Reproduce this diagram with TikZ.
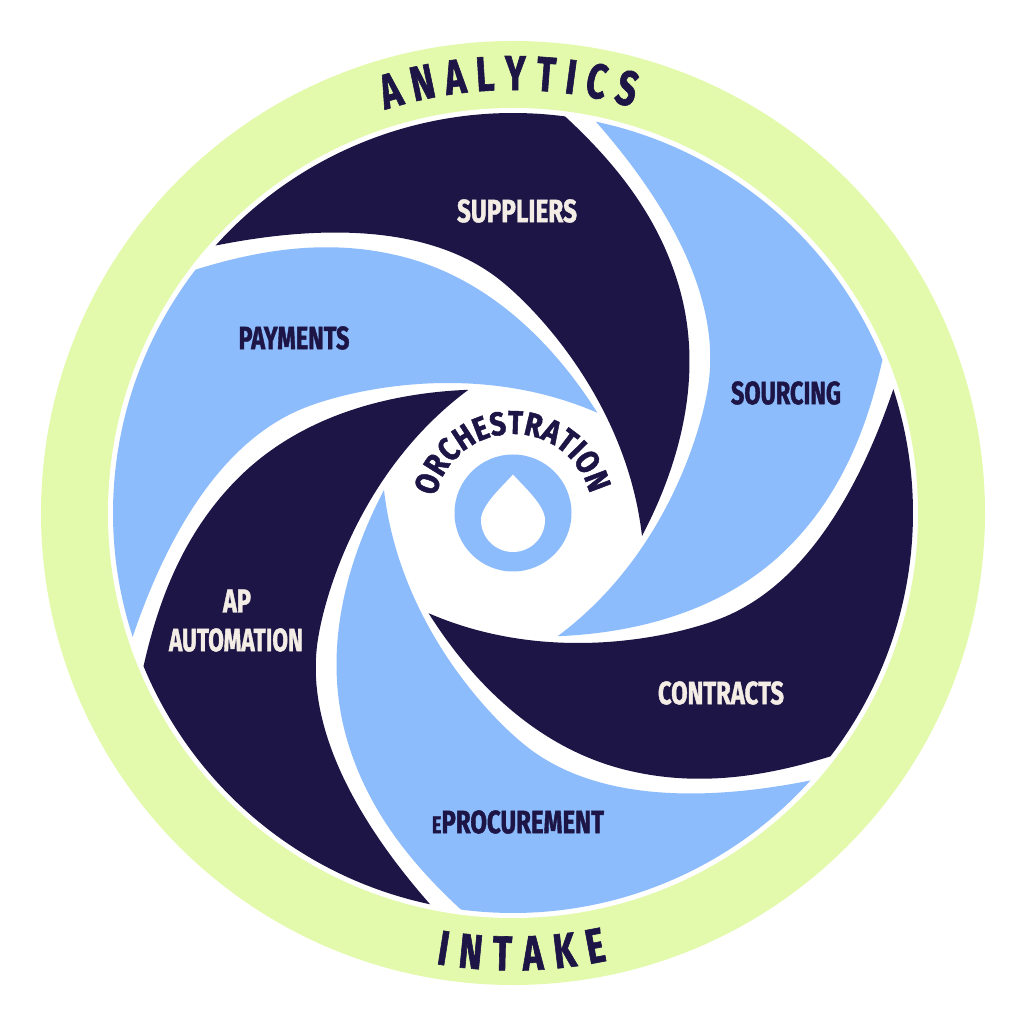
\documentclass[tikz,border=0pt]{standalone}
\usepackage{fontspec}
\usepackage{graphicx}
\usetikzlibrary{decorations.text}
\newfontfamily\lblfont[FakeStretch=0.72,BoldFeatures={FakeBold=1.2}]{Fira Sans}
\newfontfamily\arcfont[FakeStretch=0.84,BoldFeatures={FakeBold=1.4}]{Fira Sans}
\definecolor{ringgreen}{HTML}{E3FAAC}
\definecolor{bladeblue}{HTML}{8DBCFC}
\definecolor{bladedark}{HTML}{1D1546}
\definecolor{cream}{HTML}{F4EDE6}
\tikzset{
  blade/.pic={
    \fill[pic actions] (138.04:400pt) arc[start angle=138.04,end angle=82.52,radius=400pt]
      .. controls (97,355) and (142,303) .. (164,233)
      .. controls (196,133) and (160,36) .. (129,-23)
      .. controls (114,108) and (26,202) .. (-13,233)
      .. controls (-86,291) and (-200,287) .. cycle;
  },
  lbl/.style={inner sep=0pt,outer sep=0pt,font=\lblfont\bfseries},
  curved/.style n args={3}{decorate,decoration={text along path,text align={fit to path},
     text color=bladedark,
     text={|#1\bfseries\fontsize{#2}{#2}\selectfont|#3}}}
}
\newcommand{\fitlbl}[3]{\resizebox{#1pt}{#2pt}{#3}}
\begin{document}
\begin{tikzpicture}[x=1pt,y=1pt]
\useasboundingbox (-513,-511) rectangle (511,513);
\coordinate (c) at (0,0);
% outer ring
\fill[ringgreen] (c) circle (472pt);
\fill[white] (c) circle (405pt);
% six blades
\foreach \k/\col in {0/bladedark,1/bladeblue,2/bladedark,3/bladeblue,4/bladedark,5/bladeblue}{
  \pic[rotate={-60*\k},fill=\col] at (c) {blade};
}
% hub
\fill[bladeblue] (c) circle (58.5pt);
\fill[white] (0,38.5) .. controls (-10,27) and (-32,8) .. (-32,-7)
   arc[start angle=180,end angle=360,radius=32pt]
   .. controls (32,8) and (10,27) .. cycle;
% labels
\node[lbl,text=cream] (suppliers) at (4,302) {\fitlbl{120}{23}{SUPPLIERS}};
\node[lbl,text=bladedark] (payments) at (-219,175) {\fitlbl{111}{23}{PAYMENTS}};
\node[lbl,text=bladedark] (sourcing) at (273,120) {\fitlbl{110}{23}{SOURCING}};
\node[lbl,text=cream] (contracts) at (208,-180) {\fitlbl{126}{23}{CONTRACTS}};
\node[lbl,text=bladedark] (eproc) at (5,-309) {\fitlbl{172}{23}{\scalebox{0.75}{E}PROCUREMENT}};
\node[lbl,text=cream] (ap) at (-276,-88) {\fitlbl{28}{23}{AP}};
\node[lbl,text=cream] (automation) at (-277,-127) {\fitlbl{134}{23}{AUTOMATION}};
% curved titles
\coordinate (a0) at (107.6:423pt);
\coordinate (i0) at (260.3:457.5pt);
\coordinate (o0) at (168:79pt);
\path[curved={\lblfont}{49}{ANALYTICS}] (a0) arc[start angle=107.6,end angle=73.6,radius=423pt];
\path[curved={\lblfont}{49}{INTAKE}] (i0) arc[start angle=260.3,end angle=281.9,radius=457.5pt];
\path[curved={\arcfont}{33}{ORCHESTRATION}] (o0) arc[start angle=168,end angle=14,radius=79pt];
\end{tikzpicture}
\end{document}
